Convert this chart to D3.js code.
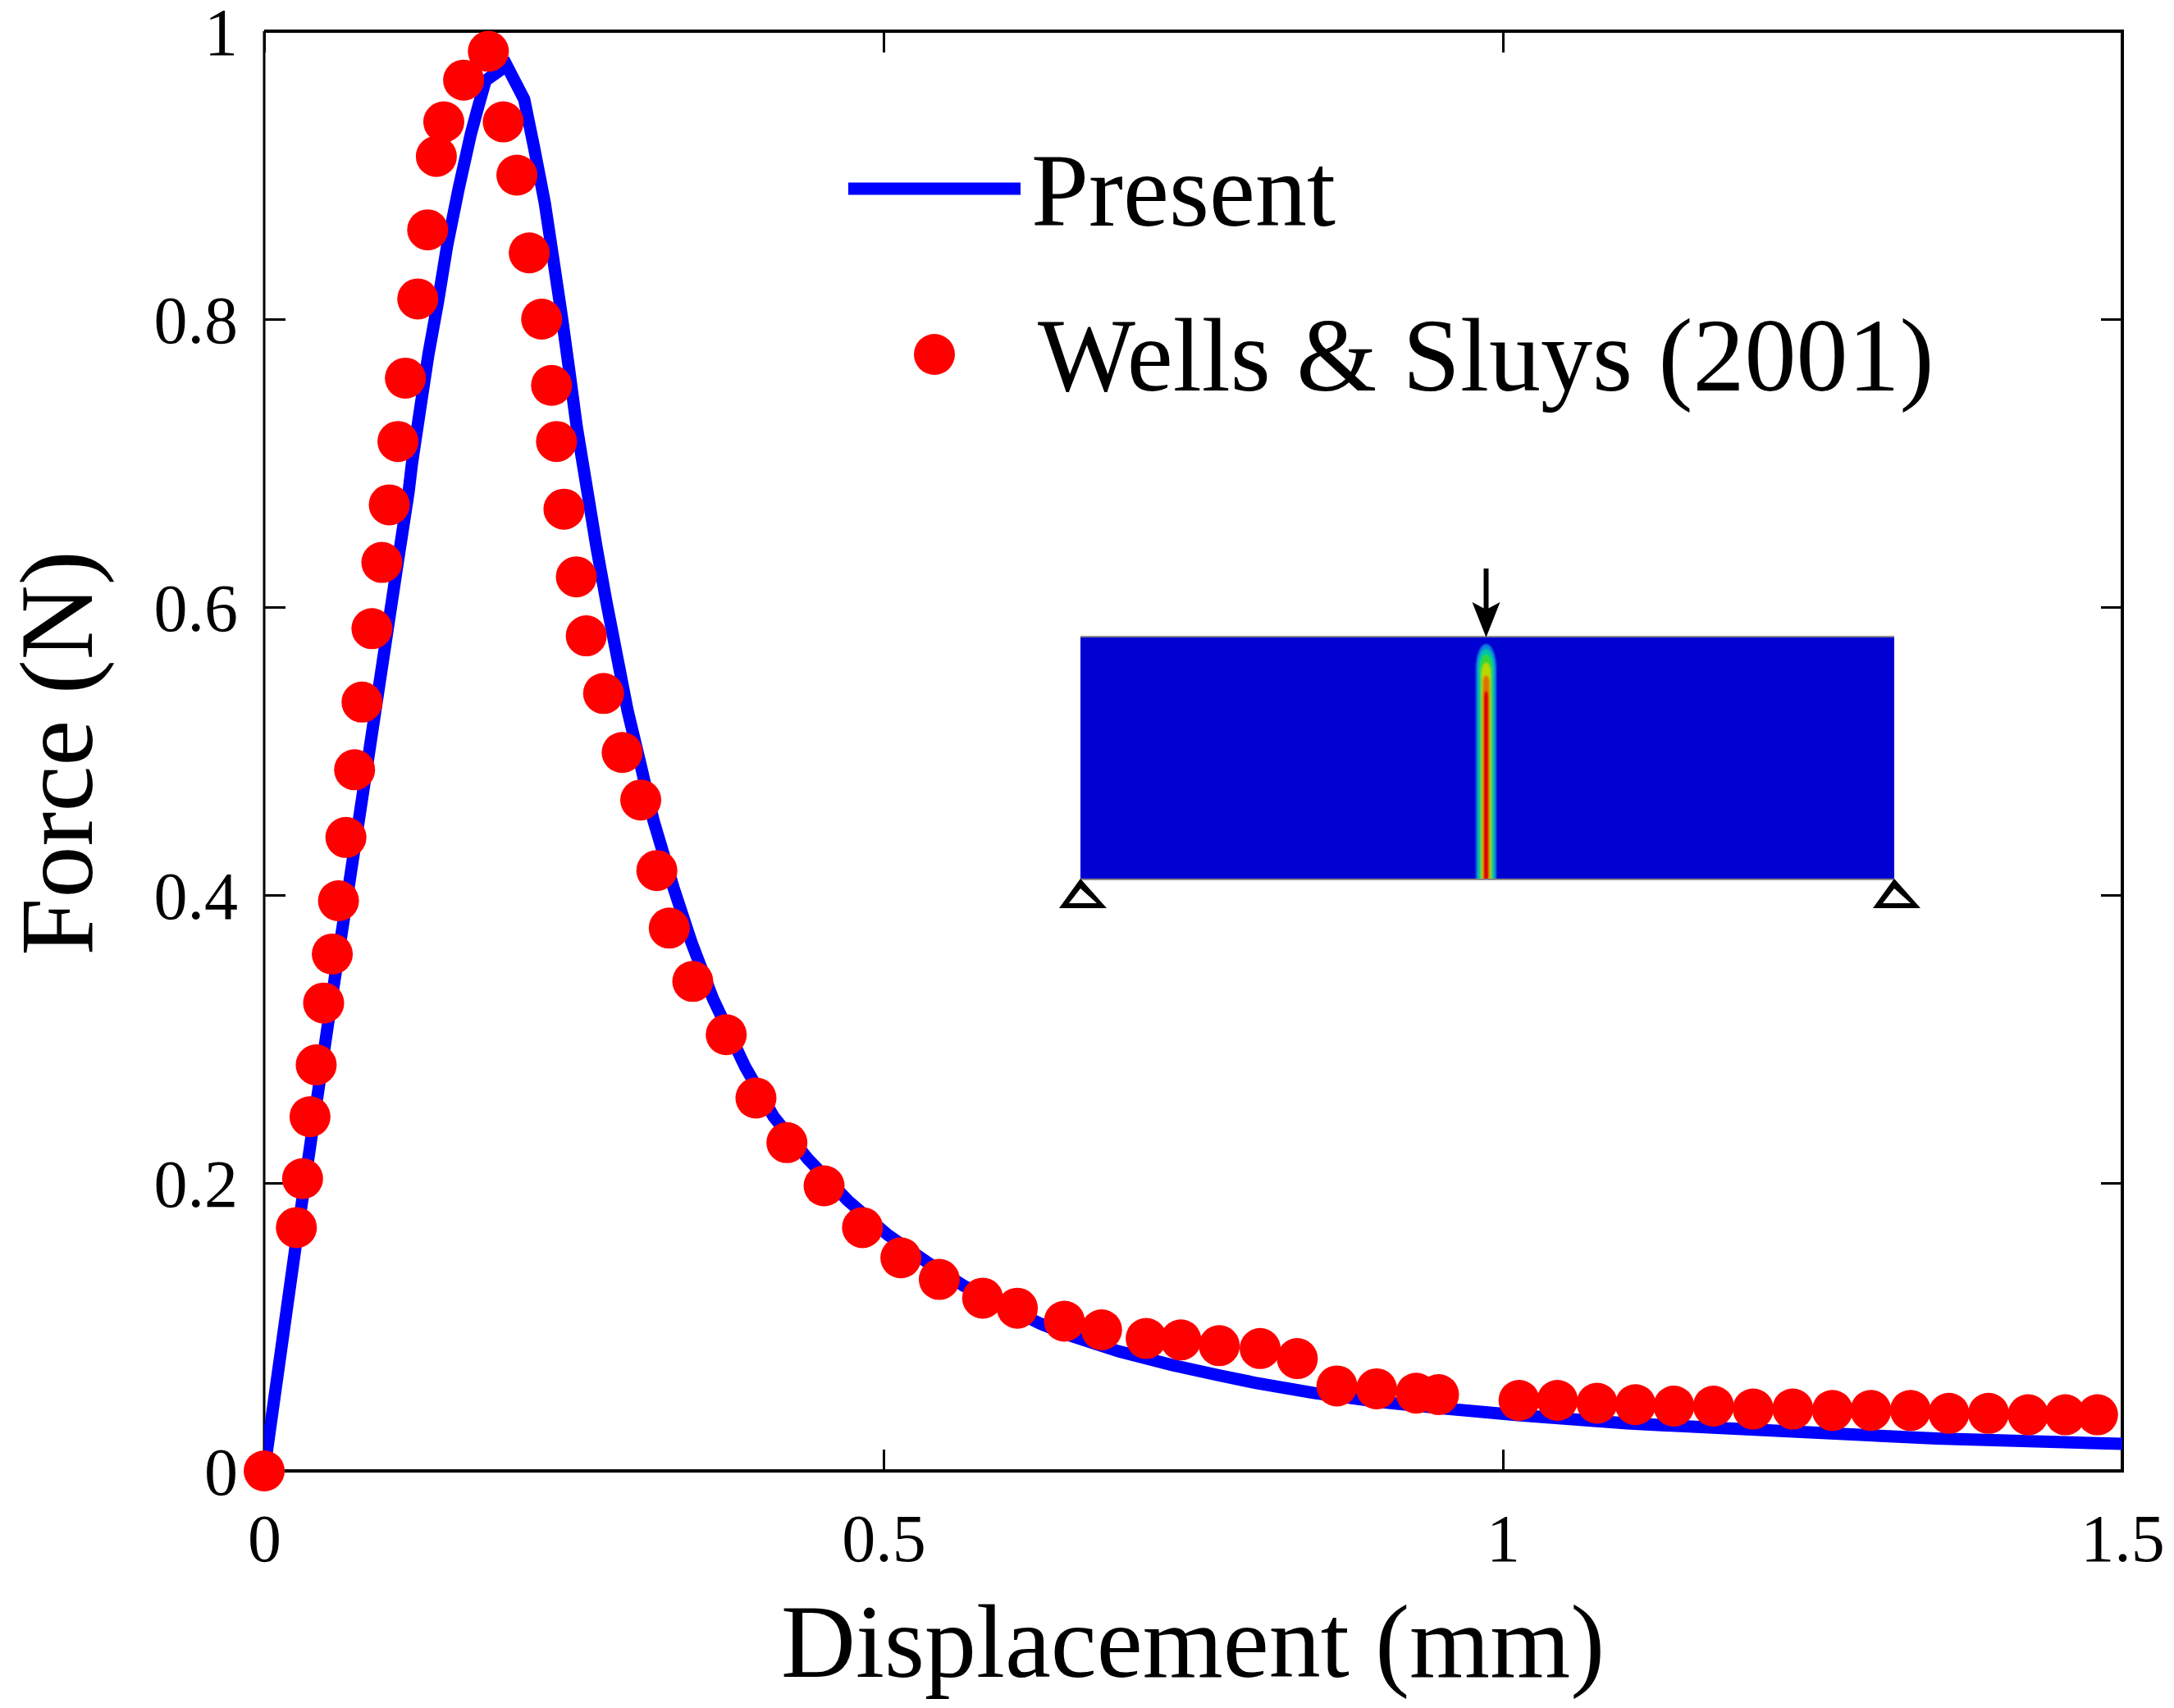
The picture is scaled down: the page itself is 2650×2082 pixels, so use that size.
<!DOCTYPE html>
<html>
<head>
<meta charset="utf-8">
<script src="https://cdn.jsdelivr.net/npm/d3@7"></script>
<style>
  html, body { margin: 0; padding: 0; background: #fff; }
  svg { display: block; }
  text { font-family: "Liberation Serif", "Times New Roman", serif; fill: #000; }
</style>
</head>
<body>
<div id="chart"></div>
<script>
var xTicks = [0, 0.5, 1, 1.5];
var yTicks = [0, 0.2, 0.4, 0.6, 0.8, 1];

var presentDisp  = [0, 0.027, 0.054, 0.081, 0.108, 0.1166, 0.1192, 0.1258, 0.1325, 0.1404, 0.1477, 0.157, 0.1669, 0.1728, 0.1788, 0.1958, 0.2099, 0.2179, 0.2265, 0.2338, 0.2404, 0.2464, 0.2523, 0.2596, 0.2682, 0.2762, 0.2848, 0.2934, 0.304, 0.3142, 0.3305, 0.345, 0.3623, 0.3881, 0.4113, 0.4391, 0.4709, 0.5033, 0.5351, 0.5649, 0.6258, 0.647, 0.69, 0.733, 0.77, 0.80, 0.847, 0.90, 0.95, 1.012, 1.10, 1.217, 1.35, 1.5];
var presentForce = [0, 0.166, 0.325, 0.478, 0.632, 0.680, 0.699, 0.737, 0.775, 0.8125, 0.851, 0.8906, 0.9288, 0.9476, 0.9658, 0.9761, 0.9527, 0.9191, 0.8809, 0.8393, 0.8011, 0.7635, 0.7254, 0.6872, 0.642, 0.604, 0.566, 0.528, 0.490, 0.452, 0.405, 0.367, 0.328, 0.281, 0.246, 0.2165, 0.188, 0.164, 0.145, 0.1285, 0.1026, 0.095, 0.083, 0.0735, 0.0665, 0.0612, 0.0542, 0.048, 0.0435, 0.0387, 0.033, 0.028, 0.0225, 0.0188];

var wellsDisp  = [0, 0.026, 0.031, 0.037, 0.042, 0.048, 0.055, 0.060, 0.066, 0.073, 0.079, 0.087, 0.095, 0.101, 0.108, 0.114, 0.124, 0.132, 0.139, 0.145, 0.161, 0.181, 0.193, 0.204, 0.214, 0.224, 0.232, 0.236, 0.242, 0.252, 0.260, 0.274, 0.289, 0.304, 0.317, 0.327, 0.346, 0.373, 0.397, 0.422, 0.452, 0.483, 0.514, 0.545, 0.580, 0.608, 0.646, 0.676, 0.712, 0.740, 0.771, 0.804, 0.834, 0.866, 0.898, 0.930, 0.948, 1.013, 1.044, 1.076, 1.107, 1.138, 1.170, 1.202, 1.234, 1.266, 1.297, 1.329, 1.360, 1.392, 1.424, 1.454, 1.480];
var wellsForce = [0, 0.169, 0.203, 0.246, 0.282, 0.325, 0.359, 0.396, 0.440, 0.487, 0.534, 0.585, 0.631, 0.671, 0.715, 0.759, 0.814, 0.862, 0.913, 0.937, 0.966, 0.986, 0.937, 0.900, 0.846, 0.800, 0.754, 0.715, 0.668, 0.621, 0.580, 0.540, 0.499, 0.466, 0.417, 0.377, 0.340, 0.303, 0.259, 0.228, 0.198, 0.169, 0.148, 0.133, 0.120, 0.113, 0.104, 0.098, 0.092, 0.091, 0.087, 0.085, 0.078, 0.059, 0.057, 0.054, 0.053, 0.049, 0.049, 0.047, 0.046, 0.045, 0.045, 0.043, 0.043, 0.042, 0.042, 0.042, 0.040, 0.040, 0.039, 0.039, 0.039];

var W = 2650, H = 2082
  , left = 322, right = 2587, top_ = 38, bottom = 1793
  , tickLen = 26
  , fontTick = 82
  , fontTitle = 126;

var svg = d3.select('#chart').append('svg')
  .attr('width', W)
  .attr('height', H)
  .attr('viewBox', '0 0 ' + W + ' ' + H);

var x = d3.scaleLinear().domain([0, 1.5]).range([left, right]);
var y = d3.scaleLinear().domain([0, 1]).range([bottom, top_]);

var defs = svg.append('defs');
defs.append('clipPath').attr('id', 'plot-clip')
  .append('rect')
  .attr('x', left).attr('y', top_)
  .attr('width', right - left).attr('height', bottom - top_);

// inset beam, drawn in beam units so it stays tied to one place
var beamX = d3.scaleLinear().domain([0, 1]).range([1317, 2309]);
var beamY = d3.scaleLinear().domain([0, 1]).range([776, 1072]);
var crack = 0.4985;

defs.append('clipPath').attr('id', 'beam-clip')
  .append('rect')
  .attr('x', beamX(0)).attr('y', beamY(0))
  .attr('width', beamX(1) - beamX(0)).attr('height', beamY(1) - beamY(0));
defs.append('filter').attr('id', 'soft')
  .attr('filterUnits', 'userSpaceOnUse')
  .attr('x', 1750).attr('y', 760).attr('width', 120).attr('height', 330)
  .append('feGaussianBlur').attr('stdDeviation', 1.3);

var inset = svg.append('g').attr('class', 'inset');

inset.append('rect')
  .attr('x', beamX(0)).attr('y', beamY(0))
  .attr('width', beamX(1) - beamX(0)).attr('height', beamY(1) - beamY(0))
  .attr('fill', '#0000d2');

var bandColors = ['#0a80e0', '#00c4a4', '#30d830', '#b8d800', '#e07000', '#e00000'];
var bandWidths = [25, 20, 15, 11, 8, 6.5];
var bandTops   = [785, 791, 798, 808, 823, 842];

// damage band, each contour level has an elongated round top
inset.append('g')
  .attr('clip-path', 'url(#beam-clip)')
  .append('g')
  .attr('filter', 'url(#soft)')
  .selectAll('path')
  .data(bandColors)
  .join('path')
  .attr('d', function (d, i) {
    var cx = beamX(crack), w = bandWidths[i] / 2, h = w * 2.4, t = bandTops[i];
    return 'M' + (cx - w) + ',' + (beamY(1) + 4) + 'V' + (t + h)
      + 'A' + w + ',' + h + ' 0 0 1 ' + (cx + w) + ',' + (t + h)
      + 'V' + (beamY(1) + 4) + 'Z';
  })
  .attr('fill', function (d) { return d; });

inset.selectAll('line.edge')
  .data([0, 1])
  .join('line')
  .attr('class', 'edge')
  .attr('x1', beamX(0)).attr('x2', beamX(1))
  .attr('y1', function (d) { return beamY(d); })
  .attr('y2', function (d) { return beamY(d); })
  .attr('stroke', '#8a8a8a')
  .attr('stroke-width', 2);

// load arrow
inset.append('line')
  .attr('x1', beamX(crack)).attr('x2', beamX(crack))
  .attr('y1', 693).attr('y2', 745)
  .attr('stroke', '#000').attr('stroke-width', 6);
inset.append('polygon')
  .attr('points', [[-17, 734], [0, 743], [17, 734], [0, 777]].map(function (p) {
    return (beamX(crack) + p[0]) + ',' + p[1];
  }).join(' '))
  .attr('fill', '#000');

// supports, outer outline with a white hole
inset.selectAll('path.support')
  .data([0, 1])
  .join('path')
  .attr('class', 'support')
  .attr('d', function (d) {
    var ax = beamX(d), cx = ax + 3;
    return 'M' + ax + ',1071L' + (cx - 29) + ',1107H' + (cx + 29) + 'Z'
      + 'M' + ax + ',1083L' + (cx - 17) + ',1101H' + (cx + 17) + 'Z';
  })
  .attr('fill', '#000')
  .attr('fill-rule', 'evenodd');

// frame + ticks
function styleAxis(g) {
  g.selectAll('.domain').remove();
  g.selectAll('.tick line').attr('stroke', '#000').attr('stroke-width', 3);
  g.selectAll('.tick text').attr('font-size', fontTick).attr('font-family', 'Liberation Serif');
}

var axisBottom = d3.axisBottom(x).tickValues(xTicks).tickSize(-tickLen).tickPadding(0).tickFormat(d3.format('~g'));
var axisLeft   = d3.axisLeft(y).tickValues(yTicks).tickSize(-tickLen).tickFormat(d3.format('~g'));

svg.append('g').attr('transform', 'translate(0,' + bottom + ')').call(axisBottom).call(styleAxis)
  .selectAll('.tick text').attr('y', 110).attr('dy', 0);
svg.append('g').attr('transform', 'translate(' + left + ',0)').call(axisLeft).call(styleAxis)
  .selectAll('.tick text').attr('x', -32).attr('dy', 28);
svg.append('g').attr('transform', 'translate(0,' + top_ + ')')
  .call(d3.axisTop(x).tickValues(xTicks).tickSize(-tickLen).tickFormat('')).call(styleAxis);
svg.append('g').attr('transform', 'translate(' + right + ',0)')
  .call(d3.axisRight(y).tickValues(yTicks).tickSize(-tickLen).tickFormat('')).call(styleAxis);

svg.append('path')
  .attr('d', 'M' + left + ',' + bottom + 'V' + top_)
  .attr('fill', 'none').attr('stroke', '#000').attr('stroke-width', 3);
svg.append('path')
  .attr('d', 'M' + left + ',' + top_ + 'H' + right + 'V' + bottom + 'H' + left)
  .attr('fill', 'none').attr('stroke', '#000').attr('stroke-width', 4);

// series
var line = d3.line()
  .x(function (d) { return x(d); })
  .y(function (d, i) { return y(presentForce[i]); });

svg.append('path')
  .attr('class', 'present')
  .attr('clip-path', 'url(#plot-clip)')
  .attr('d', line(presentDisp))
  .attr('fill', 'none')
  .attr('stroke', '#0000ff')
  .attr('stroke-width', 15)
  .attr('stroke-linejoin', 'miter');

svg.append('g').attr('class', 'wells')
  .selectAll('circle')
  .data(wellsDisp)
  .join('circle')
  .attr('cx', function (d) { return x(d); })
  .attr('cy', function (d, i) { return y(wellsForce[i]); })
  .attr('r', 25)
  .attr('fill', '#ff0000');

// legend
svg.append('line')
  .attr('x1', 1034).attr('x2', 1244).attr('y1', 230).attr('y2', 230)
  .attr('stroke', '#0000ff').attr('stroke-width', 15);
svg.append('text')
  .attr('x', 1257).attr('y', 275)
  .attr('font-size', fontTitle)
  .text('Present');
svg.append('circle')
  .attr('cx', 1139).attr('cy', 432).attr('r', 25)
  .attr('fill', '#ff0000');
svg.append('text')
  .attr('x', 1265).attr('y', 476)
  .attr('font-size', fontTitle)
  .text('Wells & Sluys (2001)');

// axis titles
svg.append('text')
  .attr('x', 1454).attr('y', 2044)
  .attr('text-anchor', 'middle')
  .attr('font-size', fontTitle)
  .text('Displacement (mm)');
svg.append('text')
  .attr('transform', 'translate(112,918) rotate(-90)')
  .attr('text-anchor', 'middle')
  .attr('font-size', fontTitle)
  .text('Force (N)');
</script>
</body>
</html>
